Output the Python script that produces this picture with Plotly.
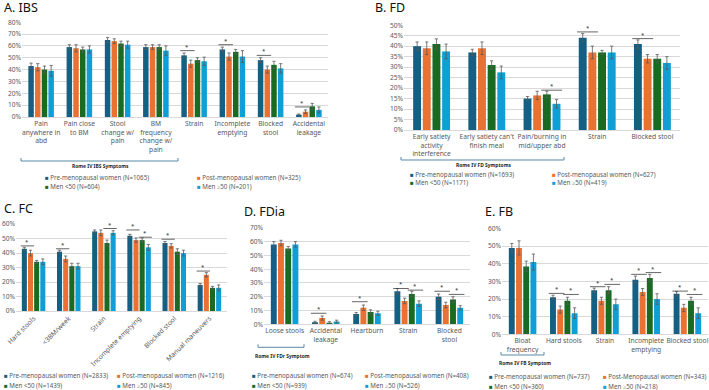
import plotly.graph_objects as go

W, H = 709, 390
FONT = "Noto Sans"
TXT = "#595959"
GRID = "#D9D9D9"

colors = ["#156082", "#E97132", "#196B24", "#0F9ED5"]

# ---------------- Panel A: IBS ----------------
a_categories = ["Pain<br>anywhere in<br>abd", "Pain close<br>to BM", "Stool<br>change w/<br>pain",
                "BM<br>frequency<br>change w/<br>pain", "Strain", "Incomplete<br>emptying",
                "Blocked<br>stool", "Accidental<br>leakage"]
a_pre = [43, 59, 65, 59, 52, 57, 48, 2]
a_post = [42, 58, 64, 59, 45, 51, 40, 4.5]
a_men_lt50 = [40, 57, 62, 59, 48, 55, 44, 9]
a_men_ge50 = [39, 57, 61, 56, 47, 51, 41, 6]
a_err_pre = [2.5, 2, 2, 2, 2, 2, 2, 0.5]
a_err_post = [3, 3, 2, 2, 3, 3, 3, 1.5]
a_err_lt50 = [3, 2, 2, 2, 2, 2, 3, 2.5]
a_err_ge50 = [4.5, 3, 3, 4, 3.5, 5, 4, 2.5]
a_legend = ["Pre-menopausal women (N=1065)", "Post-menopausal women (N=325)",
            "Men &lt;50 (N=604)", "Men ≥50 (N=201)"]
a_sig = [(4, 0, 1, 56), (5, 0, 1, 61), (6, 0, 1, 52), (7, 0, 1, 8.5)]

# ---------------- Panel B: FD ----------------
b_categories = ["Early satiety<br>activity<br>interference", "Early satiety can't<br>finish meal",
                "Pain/burning in<br>mid/upper abd", "Strain", "Blocked stool"]
b_pre = [40, 37, 15, 44, 41]
b_post = [39, 39, 16.5, 37, 34]
b_men_lt50 = [41, 31, 17, 37, 34]
b_men_ge50 = [37.5, 27.5, 12.5, 37, 32]
b_err_pre = [2, 1.5, 1, 2, 2]
b_err_post = [3, 3, 2, 3, 2]
b_err_lt50 = [2.5, 2, 1.5, 1, 2]
b_err_ge50 = [3.5, 3, 2, 3, 3]
b_legend = ["Pre-menopausal women (N=1693)", "Post-menopausal women (N=627)",
            "Men &lt;50 (N=1171)", "Men ≥50 (N=419)"]
b_sig = [(2, 2, 3, 19), (3, 0, 1, 46.8), (4, 0, 1, 43.6)]

# ---------------- Panel C: FC ----------------
c_categories = ["Hard stools", "&lt;3BM/week", "Strain", "Incomplete emptying",
                "Blocked stool", "Manual maneuvers"]
c_pre = [43, 41, 55, 52, 47, 18]
c_post = [40, 36, 54, 49, 45, 25]
c_men_lt50 = [34, 31, 47, 49, 41, 16]
c_men_ge50 = [34, 31, 54, 44, 40, 16]
c_err_pre = [1, 1, 1, 1, 1, 1]
c_err_post = [2, 2, 2, 1.5, 1.5, 1.5]
c_err_lt50 = [1, 2, 2, 1.5, 2, 1]
c_err_ge50 = [2, 2, 1.5, 2, 2, 2]
c_legend = ["Pre-menopausal women (N=2833)", "Post-menopausal women (N=1216)",
            "Men &lt;50 (N=1439)", "Men ≥50 (N=845)"]
c_sig = [(0, 0, 1, 45), (1, 0, 1, 43), (2, 2, 3, 57), (3, 0, 1, 56), (3, 2, 3, 51),
         (4, 0, 1, 49.6), (5, 0, 1, 27.6)]

# ---------------- Panel D: FDia ----------------
d_categories = ["Loose stools", "Accidental<br>leakage", "Heartburn", "Strain", "Blocked<br>stool"]
d_pre = [58, 1.5, 7.5, 24, 20]
d_post = [59, 4.5, 12, 17, 14]
d_men_lt50 = [55, 1.2, 9, 22, 18]
d_men_ge50 = [58, 2, 8, 15, 12]
d_err_pre = [2, 0.7, 1, 2, 2]
d_err_post = [2, 1.5, 2, 2, 2]
d_err_lt50 = [1.5, 0.7, 1.5, 2, 2]
d_err_ge50 = [2, 1, 1.5, 2, 1.5]
d_legend = ["Pre-menopausal women (N=674)", "Post-menopausal women (N=408)",
            "Men &lt;50 (N=939)", "Men ≥50 (N=526)"]
d_sig = [(1, 0, 1, 8), (2, 0, 1, 16.4), (3, 0, 1, 26), (3, 2, 3, 24.8), (4, 0, 1, 24), (4, 2, 3, 21.7)]

# ---------------- Panel E: FB ----------------
e_categories = ["Bloat<br>frequency", "Hard stools", "Strain", "Incomplete<br>emptying", "Blocked stool"]
e_pre = [49, 21, 25, 31, 23]
e_post = [49, 14, 19, 24, 15]
e_men_lt50 = [38.5, 19, 25, 32, 19]
e_men_ge50 = [41, 12, 17, 20, 12]
e_err_pre = [2.5, 1.2, 1.2, 2, 1.2]
e_err_post = [4, 2, 2, 2, 2]
e_err_lt50 = [3, 2, 2, 2, 2]
e_err_ge50 = [4.5, 3, 3, 3, 3]
e_legend = ["Pre-menopausal women (N=737)", "Post-Menopausal women (N=343)",
            "Men &lt;50 (N=360)", "Men ≥50 (N=218)"]
e_sig = [(1, 0, 1, 23.2), (1, 2, 3, 22.6), (2, 0, 1, 27), (2, 2, 3, 28.3),
         (3, 0, 1, 34), (3, 2, 3, 35), (4, 0, 1, 24.5), (4, 2, 3, 22.6)]


def px(x):
    return x / W


def py(y):
    return 1 - y / H


BARGAP = 0.3
GROUPGAP = 0.18

panels = [
    dict(title="A. IBS", t=(2, 7), cats=a_categories,
         vals=[a_pre, a_post, a_men_lt50, a_men_ge50],
         errs=[a_err_pre, a_err_post, a_err_lt50, a_err_ge50],
         legend=a_legend, sig=a_sig, xd=(22, 328), yd=(117, 22), ymax=80, dtick=10,
         leg=((43, 195), (178, 186)), angle=0),
    dict(title="B. FD", t=(373, 7), cats=b_categories,
         vals=[b_pre, b_post, b_men_lt50, b_men_ge50],
         errs=[b_err_pre, b_err_post, b_err_lt50, b_err_ge50],
         legend=b_legend, sig=b_sig, xd=(404, 680), yd=(130, 25), ymax=50, dtick=5,
         leg=((408, 550), (175, 182)), angle=0),
    dict(title="C. FC", t=(2, 208), cats=c_categories,
         vals=[c_pre, c_post, c_men_lt50, c_men_ge50],
         errs=[c_err_pre, c_err_post, c_err_lt50, c_err_ge50],
         legend=c_legend, sig=c_sig, xd=(16, 227), yd=(311, 224), ymax=60, dtick=10,
         leg=((2, 115), (375, 385.7)), angle=-45),
    dict(title="D. FDia", t=(242, 211), cats=d_categories,
         vals=[d_pre, d_post, d_men_lt50, d_men_ge50],
         errs=[d_err_pre, d_err_post, d_err_lt50, d_err_ge50],
         legend=d_legend, sig=d_sig, xd=(264, 470), yd=(324.3, 227.7), ymax=70, dtick=10,
         leg=((250, 363), (375, 385.7)), angle=0),
    dict(title="E. FB", t=(483, 211), cats=e_categories,
         vals=[e_pre, e_post, e_men_lt50, e_men_ge50],
         errs=[e_err_pre, e_err_post, e_err_lt50, e_err_ge50],
         legend=e_legend, sig=e_sig, xd=(502, 708), yd=(334.3, 228.3), ymax=60, dtick=10,
         leg=((487, 601), (376, 386)), angle=0),
]

fig = go.Figure()
shapes = []
annotations = []
layout = {}

slot = (1 - BARGAP) / 4
bw = slot * (1 - GROUPGAP)

for k, p in enumerate(panels):
    sfx = "" if k == 0 else str(k + 1)
    xa, ya = "x" + sfx, "y" + sfx
    for i in range(4):
        fig.add_trace(go.Bar(
            x=p["cats"], y=p["vals"][i], name=p["legend"][i],
            marker=dict(color=colors[i], line=dict(width=0)),
            error_y=dict(type="data", array=p["errs"][i], visible=True,
                         color="#595959", thickness=0.8, width=1.6),
            xaxis=xa, yaxis=ya, showlegend=False,
        ))
    layout["xaxis" + sfx] = dict(
        domain=[px(p["xd"][0]), px(p["xd"][1])], anchor=ya, automargin=False,
        type="category", showgrid=False, zeroline=False,
        showline=True, linecolor=GRID, linewidth=1, ticks="",
        tickangle=p["angle"], tickfont=dict(size=6.7, color=TXT, family=FONT),
        fixedrange=True,
    )
    layout["yaxis" + sfx] = dict(
        domain=[py(p["yd"][0]), py(p["yd"][1])], anchor=xa, automargin=False,
        range=[0, p["ymax"] * 1.002], dtick=p["dtick"], ticksuffix="%",
        showgrid=True, gridcolor=GRID, gridwidth=1, zeroline=False,
        showline=False, ticks="", tickfont=dict(size=6.6, color=TXT, family=FONT),
        fixedrange=True,
    )
    # title
    annotations.append(dict(text=p["title"], x=px(p["t"][0]), y=py(p["t"][1]),
                            xref="paper", yref="paper", xanchor="left", yanchor="middle",
                            showarrow=False, font=dict(size=12.5, color="#111111", family=FONT)))
    # legend entries (2 x 2)
    for i in range(4):
        col, row = i % 2, i // 2
        annotations.append(dict(
            text='<span style="color:%s">■</span> %s' % (colors[i], p["legend"][i]),
            x=px(p["leg"][0][col]), y=py(p["leg"][1][row]), xref="paper", yref="paper",
            xanchor="left", yanchor="middle", showarrow=False,
            font=dict(size=6.2, color=TXT, family=FONT)))
    # significance lines
    for (c, b0, b1, yv) in p["sig"]:
        x0 = c - (1 - BARGAP) / 2 + slot * (b0 + 0.5) - bw / 2 - 0.03
        x1 = c - (1 - BARGAP) / 2 + slot * (b1 + 0.5) + bw / 2 + 0.03
        shapes.append(dict(type="line", xref=xa, yref=ya, x0=x0, x1=x1, y0=yv, y1=yv,
                           line=dict(color="#404040", width=0.8)))
        annotations.append(dict(text="*", x=(x0 + x1) / 2, y=yv, xref=xa, yref=ya,
                                xanchor="center", yanchor="bottom", yshift=-2, showarrow=False,
                                font=dict(size=6, color="#262626", family=FONT)))

# Rome IV brackets (pixel geometry)
brackets = [
    ((21, 178), 161, (100, 165.5), "Rome IV IBS Symptoms"),
    ((401, 564), 160, (483, 164.5), "Rome IV FD Symptoms"),
    ((258, 304), 347.3, (282, 356), "Rome IV FDr Symptom"),
    ((501, 544), 355, (525, 363), "Rome IV FB Symptom"),
]
for (xs, yb, (tx, ty), label) in brackets:
    path = "M %f,%f L %f,%f L %f,%f L %f,%f" % (
        px(xs[0]), py(yb - 3), px(xs[0]), py(yb), px(xs[1]), py(yb), px(xs[1]), py(yb - 3))
    shapes.append(dict(type="path", xref="paper", yref="paper", path=path,
                       line=dict(color="#5B88A6", width=1)))
    annotations.append(dict(text="<b>%s</b>" % label, x=px(tx), y=py(ty), xref="paper", yref="paper",
                            xanchor="center", yanchor="middle", showarrow=False,
                            font=dict(size=4.9, color="#262626", family=FONT)))

fig.update_layout(
    width=W, height=H, margin=dict(l=0, r=0, t=0, b=0, autoexpand=False),
    paper_bgcolor="white", plot_bgcolor="white",
    barmode="group", bargap=BARGAP, bargroupgap=GROUPGAP,
    font=dict(family=FONT, color=TXT),
    shapes=shapes, annotations=annotations, showlegend=False,
    **layout,
)

fig.write_html("out.html", config={"displayModeBar": False},
               post_script="document.body.style.margin='0';document.body.style.overflow='hidden';")
